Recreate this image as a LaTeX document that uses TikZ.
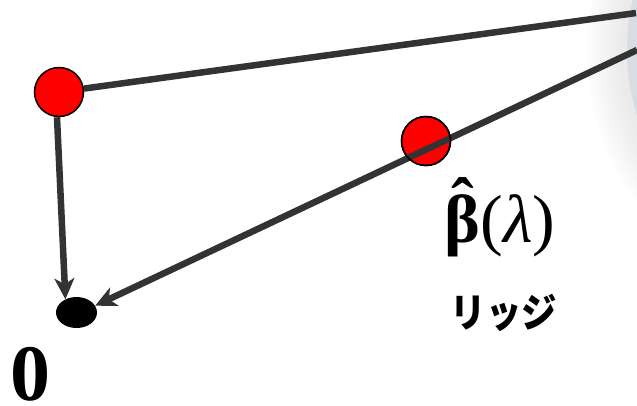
\documentclass[tikz,border=0pt]{standalone}
\usepackage{fontspec}
\newfontfamily\jp{Noto Sans CJK JP}
\newfontfamily\tnr{Liberation Serif}
\usetikzlibrary{arrows.meta,shapes.geometric}
\definecolor{linegray}{HTML}{333333}
\definecolor{bgshape}{HTML}{D8DCE3}
\tikzset{
  conn/.style={draw=linegray, line width=6.5pt},
  arr/.style={conn, -{Stealth[length=21pt,width=20pt,inset=6pt]}},
  reddot/.style={circle, fill=red, draw=black, line width=1.5pt, minimum size=#1, inner sep=0pt},
}
\newcommand{\hatbeta}{\rlap{\hspace{0.1em}\raisebox{0.24em}{ˆ}}β}
\begin{document}
\begin{tikzpicture}[x=1pt,y=-1pt]
\useasboundingbox (0,0) rectangle (637,405);
% background shape at right edge
\begin{scope}
  \clip (0,0) rectangle (637,405);
  \foreach \r in {256,252,...,220}
    \fill[gray!50, opacity=0.04] (843,50) circle (\r);
  \fill[bgshape] (843,50) circle (216);
\end{scope}
% named points
\coordinate (P) at (636,13);
\coordinate (Q) at (637,50);
\node[reddot=49pt] (A) at (59,92) {};
\node[reddot=49pt] (B) at (426,141) {};
\node[ellipse, fill=black, minimum width=41pt, minimum height=31pt, inner sep=0pt] (O) at (76.5,312.5) {};
% connectors
\draw[conn] (A) -- (P);
\draw[arr] ([xshift=-2pt]A.south) -- (O.130);
\draw[arr] (Q) -- (O.20);
\node[reddot=49pt, fill opacity=0] (B2) at (B) {};
% labels
\node[inner sep=0pt, anchor=base] (lab) at (500,242) {\tnr\fontsize{68}{72}\selectfont{\bfseries\hatbeta}(\textit{λ})};
\node[inner sep=0pt] (ridge) at (504,313) {\scalebox{1.04}[1.18]{\jp\bfseries\fontsize{34}{40}\selectfont リッジ}};
\node[inner sep=0pt] (zero) at (30,374) {\tnr\bfseries\fontsize{80}{90}\selectfont 0};
\end{tikzpicture}
\end{document}
